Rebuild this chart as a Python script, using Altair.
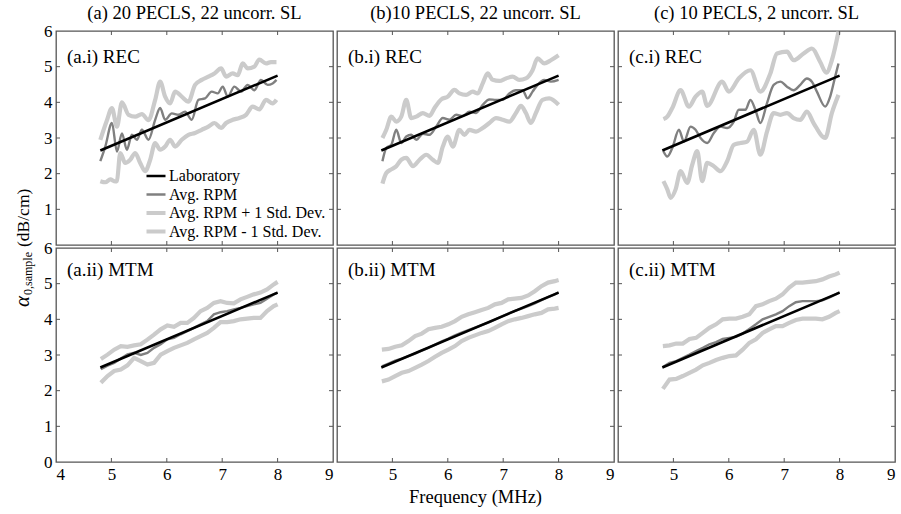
import altair as alt
import pandas as pd

FONT = "Liberation Serif"
SERIES = ["Laboratory", "Avg. RPM", "Avg. RPM + 1 Std. Dev.", "Avg. RPM - 1 Std. Dev."]
COLORS = ["#000000", "#808080", "#cbcbcb", "#cbcbcb"]
WIDTHS = [2.6, 2.4, 4.2, 4.2]

COL_TITLES = ["(a) 20 PECLS, 22 uncorr. SL", "(b)10 PECLS, 22 uncorr. SL", "(c) 10 PECLS, 2 uncorr. SL"]
PANEL_LABELS = ["(a.i) REC", "(b.i) REC", "(c.i) REC", "(a.ii) MTM", "(b.ii) MTM", "(c.ii) MTM"]
X_TICKS = [5, 6, 7, 8]
Y_TICKS = [1, 2, 3, 4, 5]
X_LABELS_FIRST = [4, 5, 6, 7, 8, 9]
X_LABELS_OTHER = [5, 6, 7, 8, 9]
Y_LABELS_TOP = [1, 2, 3, 4, 5, 6]
Y_LABELS_BOTTOM = [0, 1, 2, 3, 4, 5, 6]

# Laboratory reference line
LAB_X = [4.8, 8.0]
LAB_Y = [2.65, 4.75]

# ---- REC panels ----
AI_UP_X = [4.80, 4.92, 5.01, 5.10, 5.19, 5.31, 5.43, 5.55, 5.67, 5.79, 5.88, 5.97, 6.06, 6.15, 6.27, 6.39,
           6.51, 6.63, 6.75, 6.86, 6.98, 7.07, 7.19, 7.28, 7.37, 7.46, 7.58, 7.67, 7.79, 7.88, 7.98]
AI_UP_Y = [2.95, 3.50, 3.84, 3.32, 4.00, 3.65, 3.60, 3.67, 3.50, 4.07, 4.58, 4.16, 3.97, 4.30, 4.16, 4.02,
           4.49, 4.63, 4.72, 4.81, 4.95, 4.72, 4.81, 4.76, 5.09, 4.95, 5.00, 5.20, 5.09, 5.13, 5.13]
AI_AVG_X = [4.80, 4.89, 5.01, 5.10, 5.19, 5.28, 5.37, 5.46, 5.55, 5.67, 5.79, 5.88, 5.97, 6.09, 6.21, 6.33,
            6.45, 6.57, 6.69, 6.81, 6.92, 7.01, 7.10, 7.22, 7.34, 7.46, 7.58, 7.70, 7.82, 7.91, 7.98]
AI_AVG_Y = [2.35, 2.76, 3.42, 2.62, 3.13, 2.67, 3.09, 2.95, 3.23, 2.95, 3.51, 3.84, 3.51, 3.69, 3.65, 3.74,
            3.51, 4.07, 4.11, 4.30, 4.25, 4.44, 4.16, 4.44, 4.30, 4.49, 4.34, 4.63, 4.49, 4.53, 4.63]
AI_LO_X = [4.80, 4.89, 4.98, 5.07, 5.10, 5.16, 5.25, 5.34, 5.43, 5.52, 5.61, 5.70, 5.79, 5.88, 5.97, 6.06,
           6.15, 6.27, 6.39, 6.51, 6.63, 6.75, 6.86, 6.98, 7.07, 7.19, 7.31, 7.43, 7.55, 7.67, 7.79, 7.91, 7.98]
AI_LO_Y = [1.79, 1.76, 1.84, 1.78, 1.80, 2.58, 2.30, 2.39, 2.58, 2.30, 2.07, 2.39, 2.86, 2.67, 2.76, 2.95,
           2.76, 2.95, 3.09, 3.14, 3.23, 3.32, 3.42, 3.28, 3.42, 3.51, 3.56, 3.65, 3.88, 3.80, 4.07, 3.97, 4.07]

BI_UP_X = [4.82, 4.89, 4.98, 5.07, 5.16, 5.25, 5.34, 5.43, 5.55, 5.67, 5.76, 5.88, 6.00, 6.12, 6.21, 6.33,
           6.45, 6.54, 6.63, 6.72, 6.81, 6.93, 7.05, 7.17, 7.29, 7.41, 7.53, 7.62, 7.74, 7.86, 8.00]
BI_UP_Y = [3.00, 3.23, 3.60, 3.46, 3.60, 4.07, 3.56, 3.60, 3.70, 3.62, 3.84, 4.08, 4.16, 4.35, 4.25, 4.21,
           4.30, 4.25, 4.53, 4.81, 4.63, 4.60, 4.67, 4.72, 4.63, 4.67, 4.90, 5.23, 5.09, 5.18, 5.32]
BI_AVG_X = [4.82, 4.89, 4.98, 5.07, 5.16, 5.25, 5.34, 5.43, 5.55, 5.67, 5.79, 5.91, 6.03, 6.15, 6.27, 6.39,
            6.51, 6.63, 6.75, 6.87, 6.99, 7.11, 7.23, 7.35, 7.44, 7.53, 7.62, 7.74, 7.86, 8.00]
BI_AVG_Y = [2.35, 2.72, 2.81, 3.23, 2.86, 3.04, 3.09, 2.95, 3.12, 3.09, 3.32, 3.56, 3.51, 3.65, 3.62, 3.74,
            3.70, 3.93, 4.08, 4.07, 4.07, 4.25, 4.34, 4.34, 4.11, 4.30, 4.49, 4.63, 4.58, 4.63]
BI_LO_X = [4.82, 4.89, 4.98, 5.07, 5.16, 5.25, 5.37, 5.49, 5.61, 5.73, 5.82, 5.91, 6.00, 6.09, 6.21, 6.30,
           6.39, 6.51, 6.63, 6.75, 6.87, 6.99, 7.11, 7.23, 7.32, 7.41, 7.50, 7.59, 7.71, 7.83, 8.00]
BI_LO_Y = [1.72, 2.02, 2.12, 2.21, 2.39, 2.44, 2.21, 2.39, 2.53, 2.39, 2.30, 2.76, 3.04, 2.76, 3.23, 3.09,
           3.23, 3.18, 3.28, 3.42, 3.56, 3.51, 3.46, 3.70, 3.90, 3.70, 3.42, 3.70, 4.07, 4.11, 3.93]

CI_UP_X = [4.82, 4.89, 4.98, 5.13, 5.28, 5.40, 5.52, 5.61, 5.88, 6.00, 6.18, 6.39, 6.57, 6.75, 6.87, 7.05,
           7.17, 7.35, 7.50, 7.65, 7.76, 7.86, 7.98]
CI_UP_Y = [3.53, 3.60, 3.84, 4.34, 3.88, 4.16, 4.30, 3.90, 4.58, 4.30, 4.67, 4.90, 4.30, 4.81, 5.37, 5.42,
           5.18, 5.37, 5.51, 5.13, 4.83, 5.18, 5.98]
CI_AVG_X = [4.82, 4.89, 4.98, 5.10, 5.19, 5.31, 5.40, 5.49, 5.61, 5.73, 5.85, 5.97, 6.09, 6.18, 6.30, 6.39,
            6.48, 6.57, 6.69, 6.81, 6.93, 7.05, 7.17, 7.29, 7.41, 7.50, 7.59, 7.74, 7.83, 7.92, 7.98]
CI_AVG_Y = [2.63, 2.48, 2.72, 3.23, 2.90, 3.32, 3.23, 3.00, 2.86, 3.14, 3.32, 3.28, 3.46, 3.79, 3.79, 4.07,
            3.79, 3.42, 3.98, 4.49, 4.58, 4.44, 4.34, 4.49, 4.67, 4.58, 4.30, 3.88, 4.16, 4.72, 5.09]
CI_LO_X = [4.82, 4.89, 4.95, 5.04, 5.13, 5.25, 5.34, 5.43, 5.52, 5.61, 5.73, 5.85, 5.97, 6.09, 6.21, 6.33,
           6.45, 6.57, 6.69, 6.81, 6.93, 7.05, 7.17, 7.29, 7.41, 7.53, 7.74, 7.86, 7.98]
CI_LO_Y = [1.79, 1.56, 1.32, 1.56, 2.07, 1.74, 2.25, 2.63, 1.79, 2.30, 2.21, 2.07, 2.35, 2.81, 2.86, 2.90,
           3.23, 2.53, 3.18, 3.70, 3.65, 3.70, 3.56, 3.51, 3.74, 3.42, 3.00, 3.70, 4.21]

# ---- MTM panels (common frequency grid) ----
MTM_X = [4.81, 4.93, 5.05, 5.17, 5.29, 5.41, 5.53, 5.65, 5.77, 5.89, 6.01, 6.13, 6.25, 6.37, 6.49, 6.61,
         6.73, 6.85, 6.97, 7.09, 7.21, 7.33, 7.45, 7.57, 7.69, 7.81, 7.93, 8.00]
AII_UP = [2.89, 3.01, 3.15, 3.25, 3.23, 3.27, 3.30, 3.43, 3.57, 3.72, 3.83, 3.79, 3.90, 3.90, 4.04, 4.23,
          4.32, 4.46, 4.51, 4.46, 4.45, 4.56, 4.63, 4.70, 4.75, 4.84, 4.98, 5.05]
AII_AVG = [2.60, 2.70, 2.78, 2.90, 3.02, 3.06, 3.00, 3.06, 3.20, 3.30, 3.44, 3.48, 3.58, 3.67, 3.76, 3.86,
           3.95, 4.14, 4.20, 4.23, 4.28, 4.32, 4.37, 4.42, 4.46, 4.58, 4.70, 4.75]
AII_LO = [2.22, 2.41, 2.55, 2.59, 2.71, 2.92, 2.83, 2.73, 2.78, 3.01, 3.11, 3.20, 3.27, 3.34, 3.44, 3.53,
          3.62, 3.76, 3.92, 3.92, 3.95, 4.00, 4.02, 4.04, 4.04, 4.23, 4.37, 4.42]
BII_UP = [3.15, 3.17, 3.23, 3.27, 3.39, 3.53, 3.60, 3.72, 3.76, 3.79, 3.86, 3.95, 4.07, 4.14, 4.20, 4.26,
          4.32, 4.42, 4.46, 4.56, 4.58, 4.60, 4.67, 4.79, 4.93, 5.03, 5.07, 5.10]
BII_AVG = [2.68, 2.76, 2.84, 2.90, 2.97, 3.04, 3.12, 3.20, 3.29, 3.38, 3.46, 3.55, 3.63, 3.70, 3.77, 3.84,
           3.91, 3.99, 4.08, 4.16, 4.24, 4.30, 4.37, 4.45, 4.54, 4.62, 4.70, 4.76]
BII_LO = [2.26, 2.31, 2.41, 2.50, 2.55, 2.64, 2.73, 2.83, 2.95, 3.06, 3.15, 3.25, 3.39, 3.48, 3.55, 3.62,
          3.67, 3.76, 3.86, 3.95, 4.00, 4.04, 4.09, 4.14, 4.18, 4.28, 4.30, 4.32]
CII_UP = [3.25, 3.27, 3.32, 3.32, 3.45, 3.48, 3.62, 3.76, 3.86, 4.00, 4.02, 4.02, 4.07, 4.14, 4.37, 4.42,
          4.51, 4.58, 4.70, 4.89, 5.03, 5.03, 5.05, 5.07, 5.12, 5.20, 5.26, 5.31]
CII_AVG = [2.66, 2.78, 2.83, 2.92, 3.01, 3.11, 3.20, 3.30, 3.36, 3.45, 3.48, 3.51, 3.60, 3.73, 3.86, 4.00,
           4.07, 4.14, 4.23, 4.37, 4.48, 4.51, 4.51, 4.51, 4.53, 4.61, 4.70, 4.76]
CII_LO = [2.05, 2.31, 2.33, 2.41, 2.50, 2.59, 2.71, 2.78, 2.86, 2.92, 2.97, 2.99, 3.15, 3.34, 3.44, 3.62,
          3.72, 3.81, 3.81, 3.90, 3.98, 4.02, 4.02, 4.02, 4.00, 4.07, 4.18, 4.23]

W, H = 277, 214
TICK = "#555555"
XS = alt.Scale(domain=[4, 9], nice=False, zero=False)
YS = alt.Scale(domain=[0, 6], nice=False, zero=False)
CS = alt.Scale(domain=SERIES, range=COLORS)
SS = alt.Scale(type="ordinal", domain=SERIES, range=WIDTHS)


def frame(xs, ys, name):
    return pd.DataFrame({"x": xs, "y": ys, "series": [name] * len(xs)})


def make_panel(up, avg, lo, interp, label, label_y, xlabels, ylabels, extra_texts):
    if xlabels:
        xaxis = alt.Axis(values=xlabels, title=None, labelPadding=4, format="d")
    else:
        xaxis = None
    if ylabels:
        yaxis = alt.Axis(values=ylabels, title=None, labelPadding=4, format="d")
    else:
        yaxis = None

    def enc(ch):
        return ch.encode(
            x=alt.X("x:Q", scale=XS, axis=xaxis),
            y=alt.Y("y:Q", scale=YS, axis=yaxis),
            color=alt.Color("series:N", scale=CS, legend=alt.Legend(title=None)),
            strokeWidth=alt.StrokeWidth("series:N", scale=SS, legend=alt.Legend(title=None)),
        )

    sd = enc(alt.Chart(pd.concat([frame(up[0], up[1], SERIES[2]),
                                  frame(lo[0], lo[1], SERIES[3])])).mark_line(interpolate=interp))
    av = enc(alt.Chart(frame(avg[0], avg[1], SERIES[1])).mark_line(interpolate=interp))
    lab = enc(alt.Chart(frame(LAB_X, LAB_Y, SERIES[0])).mark_line())

    xt = pd.DataFrame({"x": X_TICKS})
    yt = pd.DataFrame({"y": Y_TICKS})
    xenc = alt.X("x:Q", scale=XS, axis=xaxis)
    yenc = alt.Y("y:Q", scale=YS, axis=yaxis)
    t_top = alt.Chart(xt).mark_rule(color=TICK, strokeWidth=1).encode(x=xenc, y=alt.value(0), y2=alt.value(4))
    t_bot = alt.Chart(xt).mark_rule(color=TICK, strokeWidth=1).encode(x=xenc, y=alt.value(H - 4), y2=alt.value(H))
    t_lef = alt.Chart(yt).mark_rule(color=TICK, strokeWidth=1).encode(y=yenc, x=alt.value(0), x2=alt.value(4))
    t_rig = alt.Chart(yt).mark_rule(color=TICK, strokeWidth=1).encode(y=yenc, x=alt.value(W - 4), x2=alt.value(W))

    lbl = alt.Chart(pd.DataFrame({"t": [label]})).mark_text(
        align="left", baseline="alphabetic", fontSize=19, font=FONT, color="#000"
    ).encode(text="t:N", x=alt.value(11), y=alt.value(label_y))

    layers = [sd, av, lab, t_top, t_bot, t_lef, t_rig, lbl]
    for (txt, x, y, size, angle, align, style) in extra_texts:
        kw = dict(align=align, baseline="alphabetic", fontSize=size, font=FONT, color="#000")
        if angle:
            kw["angle"] = angle
        if style:
            kw["fontStyle"] = style
        layers.append(alt.Chart(pd.DataFrame({"t": [txt]})).mark_text(**kw).encode(
            text="t:N", x=alt.value(x), y=alt.value(y)))
    return alt.layer(*layers).properties(width=W, height=H)


ytitle = [
    ("α", -27, 276, 21, 270, "left", "italic"),
    ("0,sample", -24, 264, 12, 270, "left", None),
    ("(dB/cm)", -27, 216, 17.5, 270, "left", None),
]

panels = [
    make_panel((AI_UP_X, AI_UP_Y), (AI_AVG_X, AI_AVG_Y), (AI_LO_X, AI_LO_Y), "monotone",
               PANEL_LABELS[0], 32, None, Y_LABELS_TOP,
               [(COL_TITLES[0], W / 2, -12, 18.5, 0, "center", None)] + ytitle),
    make_panel((BI_UP_X, BI_UP_Y), (BI_AVG_X, BI_AVG_Y), (BI_LO_X, BI_LO_Y), "monotone",
               PANEL_LABELS[1], 32, None, None,
               [(COL_TITLES[1], W / 2, -12, 18.5, 0, "center", None)]),
    make_panel((CI_UP_X, CI_UP_Y), (CI_AVG_X, CI_AVG_Y), (CI_LO_X, CI_LO_Y), "monotone",
               PANEL_LABELS[2], 32, None, None,
               [(COL_TITLES[2], W / 2, -12, 18.5, 0, "center", None)]),
    make_panel((MTM_X, AII_UP), (MTM_X, AII_AVG), (MTM_X, AII_LO), "linear",
               PANEL_LABELS[3], 28, X_LABELS_FIRST, Y_LABELS_BOTTOM, []),
    make_panel((MTM_X, BII_UP), (MTM_X, BII_AVG), (MTM_X, BII_LO), "linear",
               PANEL_LABELS[4], 28, X_LABELS_OTHER, None,
               [("Frequency  (MHz)", W / 2, 255, 18.5, 0, "center", None)]),
    make_panel((MTM_X, CII_UP), (MTM_X, CII_AVG), (MTM_X, CII_LO), "linear",
               PANEL_LABELS[5], 28, X_LABELS_OTHER, None, []),
]

chart = alt.concat(*panels, columns=3, spacing={"row": 3, "column": 4}).properties(
    bounds="flush",
    autosize=alt.AutoSizeParams(type="none"),
    padding={"left": 56, "top": 31, "right": 845, "bottom": 483},
    background="white",
).configure(font=FONT).configure_view(
    stroke="#555555", strokeWidth=1.3
).configure_axis(
    labelFont=FONT, labelFontSize=17, labelColor="#000000", grid=False, ticks=False, domain=False
).configure_legend(
    orient="none", legendX=88, legendY=137, labelFont=FONT, labelFontSize=16, labelColor="#000000",
    symbolType="stroke", symbolSize=361, labelOffset=1, clipHeight=16, rowPadding=2.5, padding=0
)

chart.save("out.html", embed_options={"renderer": "svg", "actions": False})
